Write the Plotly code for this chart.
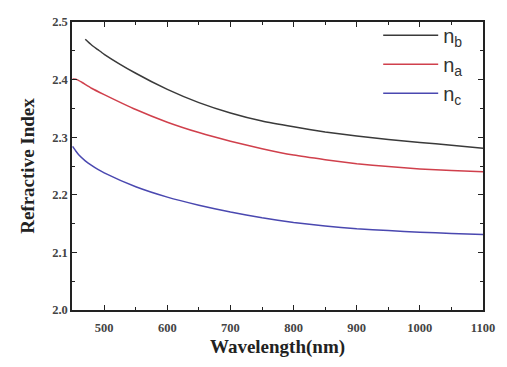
import plotly.graph_objects as go

# Wavelength grids (nm) and refractive index values
wl_b = [470, 480, 490, 500, 550, 600, 650, 700, 750, 800, 850, 900, 950, 1000, 1050, 1100]
n_b = [2.470, 2.460, 2.452, 2.444, 2.411, 2.383, 2.360, 2.342, 2.328, 2.318, 2.309, 2.302, 2.296, 2.291, 2.286, 2.281]

wl_a = [450, 457, 465, 480, 500, 550, 600, 650, 700, 750, 800, 850, 900, 950, 1000, 1050, 1100]
n_a = [2.401, 2.400, 2.395, 2.385, 2.374, 2.348, 2.326, 2.308, 2.293, 2.280, 2.269, 2.261, 2.254, 2.249, 2.245, 2.242, 2.240]

wl_c = [450, 455, 460, 470, 480, 490, 500, 550, 600, 650, 700, 750, 800, 850, 900, 950, 1000, 1050, 1100]
n_c = [2.284, 2.276, 2.269, 2.259, 2.251, 2.244, 2.238, 2.214, 2.196, 2.182, 2.170, 2.160, 2.152, 2.146, 2.141, 2.138, 2.135, 2.133, 2.131]

series_names = ["n<sub>b</sub>", "n<sub>a</sub>", "n<sub>c</sub>"]
series_colors = ["#3a3a3a", "#d0404c", "#4a48b0"]

x_ticks = [500, 600, 700, 800, 900, 1000, 1100]
y_ticks = [2.0, 2.1, 2.2, 2.3, 2.4, 2.5]

fig = go.Figure()
for i, (wl, n, name, col) in enumerate(zip([wl_b, wl_a, wl_c], [n_b, n_a, n_c], series_names, series_colors)):
    fig.add_trace(go.Scatter(x=wl, y=n, mode="lines", name=name, legendgroup=f"g{i}",
                             line=dict(color=col, width=1.5, shape="spline", smoothing=0.5)))

axis_common = dict(
    showline=True, linecolor="#222", linewidth=1.5, mirror="allticks",
    ticks="inside", ticklen=5, tickwidth=1.2, tickcolor="#222",
    showgrid=False, zeroline=False,
    tickfont=dict(family="Liberation Serif", size=12.5, color="#444", weight="bold"),
)

fig.update_xaxes(
    range=[449, 1100], tickvals=x_ticks, ticklabelstandoff=5,
    minor=dict(dtick=50, ticks="inside", ticklen=3, tickcolor="#222", tickwidth=1),
    title=dict(text="<b>Wavelength(nm)</b>", font=dict(family="Liberation Serif", size=19, color="#222"), standoff=6),
    **axis_common,
)
fig.update_yaxes(
    range=[2.0, 2.5], tickvals=y_ticks, tickformat=".1f",
    minor=dict(dtick=0.05, ticks="inside", ticklen=3, tickcolor="#222", tickwidth=1),
    title=dict(text="<b>Refractive Index</b>", font=dict(family="Liberation Serif", size=19, color="#222"), standoff=12),
    **axis_common,
)

# page body has an 8px margin, so the figure is offset by 8px in the window
fig.update_layout(
    width=507, height=367,
    margin=dict(l=64, r=32, t=8, b=65),
    paper_bgcolor="white", plot_bgcolor="white",
    font=dict(family="Liberation Serif", color="#222"),
    legend=dict(x=0.745, y=1.022, xanchor="left", yanchor="top",
                bgcolor="rgba(0,0,0,0)", itemwidth=55, tracegroupgap=0,
                font=dict(family="Liberation Sans", size=20, color="#333")),
)

fig.write_html("out.html")
